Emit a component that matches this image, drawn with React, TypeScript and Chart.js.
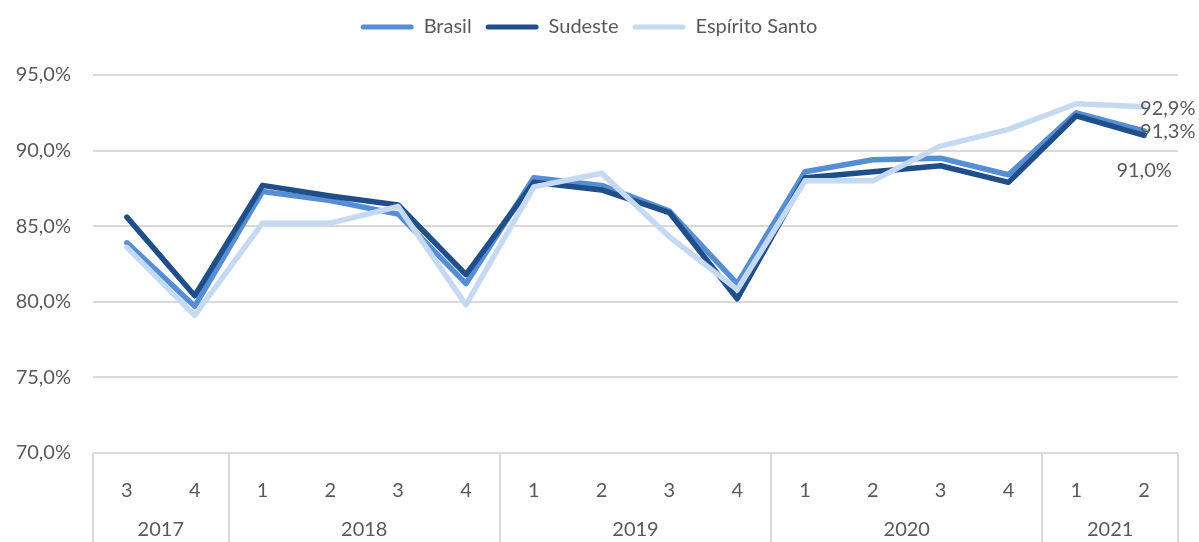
import React, { useEffect, useRef } from 'react';
import { Chart, registerables } from 'chart.js';

Chart.register(...registerables);

// ---- data ----
const quarters = ['3', '4', '1', '2', '3', '4', '1', '2', '3', '4', '1', '2', '3', '4', '1', '2'];
const years = ['2017', '2018', '2019', '2020', '2021'];
const yearSpans = [2, 4, 4, 4, 2];
const brasil = [83.9, 79.7, 87.3, 86.7, 85.8, 81.2, 88.2, 87.7, 86.0, 81.2, 88.6, 89.4, 89.5, 88.4, 92.5, 91.3];
const sudeste = [85.6, 80.4, 87.7, 87.0, 86.4, 81.8, 87.9, 87.4, 85.9, 80.2, 88.2, 88.6, 89.0, 87.9, 92.3, 91.0];
const espiritoSanto = [83.6, 79.1, 85.2, 85.2, 86.3, 79.8, 87.6, 88.5, 84.3, 80.8, 88.0, 88.0, 90.3, 91.4, 93.1, 92.9];
const seriesNames = ['Brasil', 'Sudeste', 'Espírito Santo'];
const yMin = 70;
const yMax = 95;
const yStep = 5;

// ---- styles ----
const FONT = 'Lato, "Open Sans", sans-serif';
const TEXT = '#595959';
const GRID = '#D9D9D9';
const COLORS = ['#558ED5', '#1F4E88', '#C5D9F1'];
const labelPlacement = [
  { align: 'left', dx: -4, dy: 1 },
  { align: 'center', dx: 0, dy: 35 },
  { align: 'left', dx: -4, dy: 2 },
];

const fmt = (v: number) => v.toFixed(1).replace('.', ',') + '%';

const spacerPlugin = {
  id: 'legendSpacer',
  beforeUpdate(chart: any) {
    const lg = chart.legend;
    if (lg && !lg.__patched) {
      const orig = lg.fit;
      lg.fit = function () {
        orig.call(this);
        this.height += 28;
      };
      lg.__patched = true;
    }
  },
};

const yearBoxPlugin = {
  id: 'yearBox',
  afterDraw(chart: any) {
    const { ctx, chartArea, scales } = chart;
    const x = scales.x;
    const step = x.getPixelForValue(1) - x.getPixelForValue(0);
    const top = chartArea.bottom;
    const bottom = chart.height;
    ctx.save();
    ctx.strokeStyle = GRID;
    ctx.lineWidth = 2;
    ctx.fillStyle = TEXT;
    ctx.font = `20px ${FONT}`;
    ctx.textAlign = 'center';
    ctx.textBaseline = 'middle';
    let idx = 0;
    yearSpans.forEach((span, i) => {
      const left = x.getPixelForValue(idx) - step / 2;
      const right = x.getPixelForValue(idx + span - 1) + step / 2;
      ctx.beginPath();
      ctx.moveTo(Math.round(left), top);
      ctx.lineTo(Math.round(left), bottom);
      if (i === yearSpans.length - 1) {
        ctx.moveTo(Math.round(right), top);
        ctx.lineTo(Math.round(right), bottom);
      }
      ctx.stroke();
      ctx.fillText(years[i], (left + right) / 2, top + 77);
      idx += span;
    });
    ctx.restore();
  },
};

const dataLabelPlugin = {
  id: 'lastLabels',
  afterDatasetsDraw(chart: any) {
    const { ctx } = chart;
    ctx.save();
    ctx.font = `20px ${FONT}`;
    ctx.fillStyle = TEXT;
    ctx.textBaseline = 'middle';
    chart.data.datasets.forEach((ds: any, i: number) => {
      const meta = chart.getDatasetMeta(i);
      const n = meta.data.length - 1;
      const pt = meta.data[n];
      const p = labelPlacement[i];
      ctx.textAlign = p.align;
      ctx.fillText(fmt(ds.data[n]), pt.x + p.dx, pt.y + p.dy);
    });
    ctx.restore();
  },
};

export default function App() {
  const ref = useRef<HTMLCanvasElement>(null);

  useEffect(() => {
    if (!ref.current) return;
    const series = [brasil, sudeste, espiritoSanto];
    const orders = [3, 2, 1];
    const chart = new Chart(ref.current, {
      type: 'line',
      data: {
        labels: quarters,
        datasets: series.map((d, i) => ({
          label: seriesNames[i],
          data: d,
          borderColor: COLORS[i],
          backgroundColor: COLORS[i],
          borderWidth: 5.5,
          pointRadius: 0,
          pointHoverRadius: 0,
          tension: 0,
          fill: false,
          borderCapStyle: 'round',
          borderJoinStyle: 'round',
          order: orders[i],
        })),
      },
      options: {
        responsive: false,
        animation: false,
        layout: { padding: { left: 0, right: 21, top: 3, bottom: 0 } },
        plugins: {
          tooltip: { enabled: false },
          legend: {
            position: 'top',
            align: 'center',
            labels: {
              font: { family: FONT, size: 20 },
              color: TEXT,
              boxWidth: 53,
              boxHeight: 5,
              padding: 14,
              sort: (a: any, b: any) => a.datasetIndex - b.datasetIndex,
              generateLabels: (c: any) => {
                const items = Chart.defaults.plugins.legend.labels.generateLabels(c);
                return items.map((it: any) => ({
                  ...it,
                  fillStyle: COLORS[it.datasetIndex],
                  strokeStyle: COLORS[it.datasetIndex],
                  lineWidth: 0,
                  borderRadius: 2.5,
                }));
              },
            },
          },
        },
        scales: {
          x: {
            type: 'category',
            offset: true,
            grid: { display: false },
            border: { display: false },
            ticks: {
              font: { family: FONT, size: 20 },
              color: TEXT,
              padding: 18,
              maxRotation: 0,
              autoSkip: false,
            },
            afterFit: (s: any) => {
              s.height = 89;
            },
          },
          y: {
            min: yMin,
            max: yMax,
            grid: { color: GRID, lineWidth: 2, drawTicks: false },
            border: { display: false },
            ticks: {
              stepSize: yStep,
              font: { family: FONT, size: 20 },
              color: TEXT,
              padding: 22,
              callback: (v: any) => fmt(Number(v)),
            },
            afterFit: (s: any) => {
              s.width = 93;
            },
          },
        },
      },
      plugins: [spacerPlugin, yearBoxPlugin, dataLabelPlugin],
    } as any);
    return () => chart.destroy();
  }, []);

  return (
    <div style={{ position: 'fixed', left: 0, top: 0, width: 1199, height: 542, background: '#fff' }}>
      <canvas ref={ref} width={1199} height={542} style={{ width: 1199, height: 542, display: 'block' }} />
    </div>
  );
}
